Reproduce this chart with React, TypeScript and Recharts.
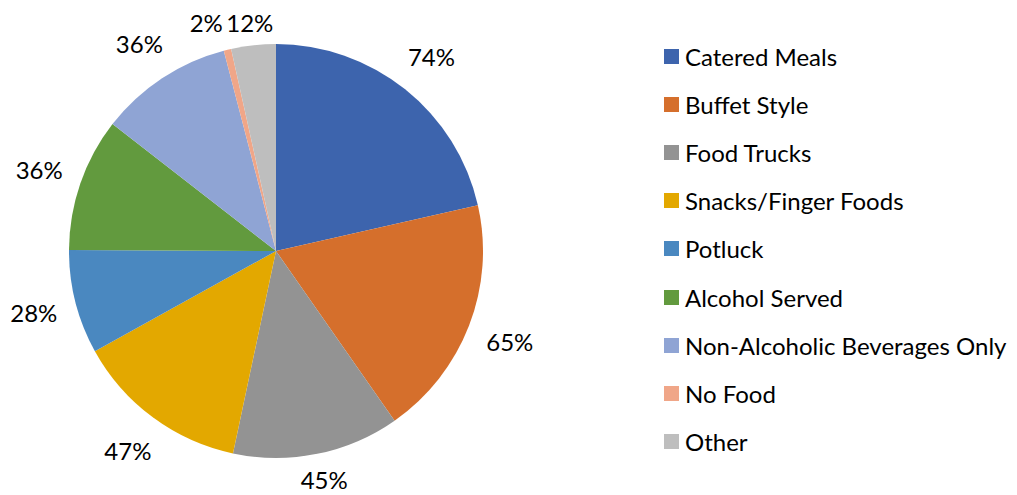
import React from "react";
import { PieChart, Pie, Cell, Legend } from "recharts";

const categories = [
  "Catered Meals",
  "Buffet Style",
  "Food Trucks",
  "Snacks/Finger Foods",
  "Potluck",
  "Alcohol Served",
  "Non-Alcoholic Beverages Only",
  "No Food",
  "Other",
];
const values = [74, 65, 45, 47, 28, 36, 36, 2, 12];
const colors = [
  "#3D64AD",
  "#D56F2C",
  "#939393",
  "#E3A800",
  "#4A88C0",
  "#629A3E",
  "#8FA4D4",
  "#F0A688",
  "#BEBEBE",
];

const data = categories.map((name, i) => ({ name, value: values[i] }));

const FONT = "Lato, 'Noto Sans', sans-serif";
const LABEL_SIZE = 24;
const CHAR_W = 15;
const LABEL_H = 26;
const CHART_W = 1009;
const CHART_H = 487;

// Lay out all labels outside the pie (angles come from the data), keep them
// inside the chart area, then push apart any that collide near the top.
function layoutLabels(cx: number, cy: number, outerRadius: number) {
  const total = values.reduce((a, b) => a + b, 0);
  let acc = 0;
  const pos = values.map((v) => {
    const mid = 90 - ((acc + v / 2) / total) * 360;
    acc += v;
    const rad = (-mid * Math.PI) / 180;
    const c = Math.cos(rad);
    const s = Math.sin(rad);
    const text = `${v}%`;
    const w = text.length * CHAR_W;
    const ext = (Math.abs(c) * w) / 2 + (Math.abs(s) * LABEL_H) / 2;
    const r = outerRadius + 18 + ext;
    const y = Math.min(Math.max(cy + r * s, 14), CHART_H - 16);
    return { x: cx + r * c, y, w, text };
  });
  for (let i = pos.length - 2; i >= 0; i--) {
    const a = pos[i];
    const b = pos[i + 1];
    if (
      a.y < cy &&
      b.y < cy &&
      Math.abs(a.y - b.y) < LABEL_H &&
      a.x + a.w / 2 + 6 > b.x - b.w / 2 &&
      a.x < b.x + b.w / 2
    ) {
      a.x = b.x - (a.w + b.w) / 2 - 6;
    }
  }
  return pos;
}

const renderLabel = (props: any) => {
  const { cx, cy, outerRadius, index } = props;
  const p = layoutLabels(cx, cy, outerRadius)[index];
  return (
    <text
      x={p.x}
      y={p.y}
      textAnchor="middle"
      dominantBaseline="central"
      fill="#000"
      fontSize={LABEL_SIZE}
      fontFamily={FONT}
    >
      {p.text}
    </text>
  );
};

const renderLegend = () => (
  <div style={{ fontFamily: FONT }}>
    {categories.map((name, i) => (
      <div
        key={name}
        style={{
          display: "flex",
          alignItems: "center",
          height: 48.2,
        }}
      >
        <div
          style={{
            width: 15,
            height: 15,
            background: colors[i],
            marginRight: 6,
            flexShrink: 0,
          }}
        />
        <span style={{ fontSize: 24, color: "#000", whiteSpace: "nowrap" }}>
          {name}
        </span>
      </div>
    ))}
  </div>
);

export default function App() {
  return (
    <PieChart
      width={CHART_W}
      height={CHART_H}
      margin={{ top: 0, right: 0, bottom: 0, left: 0 }}
    >
      <Pie
        data={data}
        dataKey="value"
        nameKey="name"
        cx={268}
        cy={243}
        outerRadius={207}
        startAngle={90}
        endAngle={-270}
        stroke="none"
        label={renderLabel}
        labelLine={false}
        isAnimationActive={false}
      >
        {data.map((d, i) => (
          <Cell key={d.name} fill={colors[i]} />
        ))}
      </Pie>
      <Legend
        content={renderLegend}
        layout="vertical"
        wrapperStyle={{ position: "absolute", left: 656, top: 24, width: 350 }}
      />
    </PieChart>
  );
}
